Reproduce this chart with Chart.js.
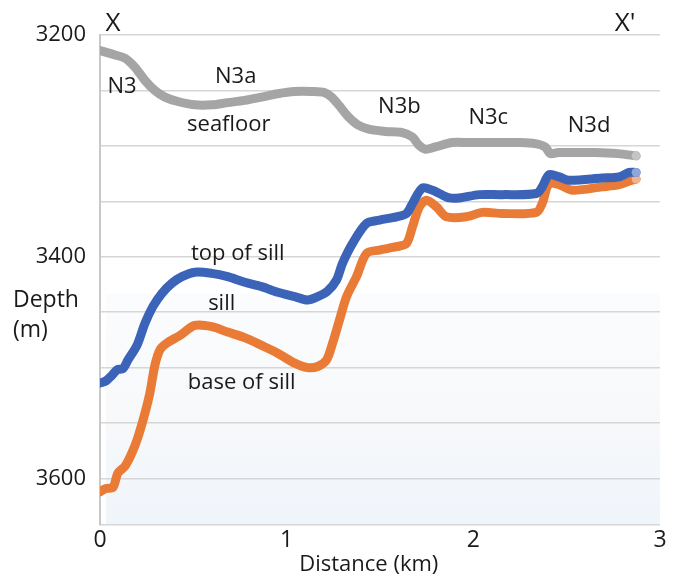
<!DOCTYPE html>
<html>
<head>
<meta charset="utf-8">
<script src="https://cdn.jsdelivr.net/npm/chart.js@4.4.1/dist/chart.umd.min.js"></script>
<style>
  html, body { margin: 0; padding: 0; background: #fff; }
  #wrap { width: 676px; height: 579px; }
</style>
</head>
<body>
<div id="wrap"><canvas id="perfil"></canvas></div>
<script>
// distance along X-X' (km) and depth (m) for each surface
const seafloorKm = [0, 0.08, 0.134, 0.187, 0.241, 0.294, 0.348, 0.417, 0.508, 0.599, 0.684, 0.775, 0.866, 0.952, 1.043, 1.134, 1.203, 1.241, 1.283, 1.326, 1.38, 1.439, 1.529, 1.62, 1.674, 1.706, 1.743, 1.797, 1.888, 1.973, 2.064, 2.155, 2.241, 2.332, 2.385, 2.412, 2.455, 2.545, 2.652, 2.775, 2.872];
const seafloorDepth = [3214, 3218, 3221, 3229, 3241, 3250, 3256, 3260, 3263, 3263, 3261, 3259, 3256, 3253, 3251, 3251, 3252, 3256, 3264, 3273, 3281, 3285, 3287, 3288, 3292, 3299, 3303, 3301, 3297, 3297, 3297, 3297, 3297, 3298, 3301, 3307, 3306, 3306, 3306, 3307, 3309];

const topKm = [0, 0.032, 0.064, 0.091, 0.123, 0.15, 0.198, 0.241, 0.283, 0.332, 0.385, 0.439, 0.508, 0.599, 0.684, 0.775, 0.866, 0.952, 1.043, 1.112, 1.166, 1.219, 1.267, 1.299, 1.353, 1.428, 1.497, 1.588, 1.642, 1.674, 1.727, 1.781, 1.818, 1.872, 1.925, 2.032, 2.155, 2.337, 2.369, 2.406, 2.46, 2.513, 2.69, 2.781, 2.834, 2.872];
const topDepth = [3514, 3512, 3507, 3502, 3501, 3493, 3480, 3460, 3445, 3433, 3424, 3418, 3414, 3415, 3418, 3423, 3427, 3432, 3436, 3439, 3436, 3431, 3421, 3406, 3388, 3370, 3367, 3364, 3361, 3352, 3338, 3340, 3343, 3347, 3347, 3344, 3344, 3343, 3337, 3326, 3328, 3331, 3329, 3328, 3324, 3324];

const baseKm = [0, 0.032, 0.07, 0.096, 0.134, 0.171, 0.203, 0.241, 0.267, 0.294, 0.321, 0.358, 0.428, 0.508, 0.599, 0.684, 0.775, 0.866, 0.952, 1.043, 1.112, 1.166, 1.214, 1.246, 1.283, 1.321, 1.374, 1.428, 1.497, 1.588, 1.642, 1.674, 1.711, 1.749, 1.802, 1.856, 1.963, 2.048, 2.155, 2.337, 2.369, 2.406, 2.46, 2.529, 2.69, 2.781, 2.85, 2.872];
const baseDepth = [3612, 3609, 3608, 3595, 3589, 3577, 3563, 3541, 3523, 3498, 3484, 3478, 3471, 3462, 3463, 3468, 3473, 3480, 3487, 3496, 3500, 3499, 3493, 3478, 3457, 3436, 3418, 3397, 3394, 3391, 3388, 3373, 3355, 3349, 3355, 3364, 3364, 3360, 3361, 3360, 3352, 3334, 3335, 3340, 3337, 3335, 3331, 3330];

const depthTicks = [3200, 3400, 3600];

// text placed on the section (km, depth)
const etiquetas = [
  { t: 'N3', x: 0.118, y: 3247 },
  { t: 'N3a', x: 0.727, y: 3238 },
  { t: 'seafloor', x: 0.69, y: 3281 },
  { t: 'N3b', x: 1.604, y: 3265 },
  { t: 'N3c', x: 2.08, y: 3275 },
  { t: 'N3d', x: 2.62, y: 3282 },
  { t: 'top of sill', x: 0.738, y: 3397 },
  { t: 'sill', x: 0.652, y: 3442 },
  { t: 'base of sill', x: 0.759, y: 3514 }
];

const FUENTE = '"Open Sans", "Noto Sans", sans-serif';

function puntos(xs, ys) {
  return xs.map((x, i) => ({ x, y: ys[i] }));
}

function serie(xs, ys, color, fin) {
  return {
    data: puntos(xs, ys),
    showLine: true,
    borderColor: color,
    borderWidth: 9,
    borderCapStyle: 'round',
    borderJoinStyle: 'round',
    pointRadius: ctx => (ctx.dataIndex === xs.length - 1 ? 4.5 : 0),
    pointBackgroundColor: fin,
    pointBorderWidth: 0,
    tension: 0.3
  };
}

// soft blue shading in the lower part of the plot
const fondo = {
  id: 'fondo',
  beforeDraw(chart) {
    const { ctx, chartArea: a } = chart;
    const top = 294;
    const g = ctx.createLinearGradient(0, top, 0, a.bottom);
    g.addColorStop(0, '#fbfcfd');
    g.addColorStop(0.6, '#f6f8fa');
    g.addColorStop(1, '#f0f5fb');
    ctx.save();
    ctx.fillStyle = g;
    ctx.fillRect(a.left + 6, top, a.right - a.left - 6, a.bottom - top);
    ctx.restore();
  }
};

const textos = {
  id: 'textos',
  afterDraw(chart) {
    const { ctx, scales: { x, y }, chartArea: a } = chart;
    ctx.save();
    ctx.fillStyle = '#1a1a1a';
    ctx.textAlign = 'center';
    ctx.textBaseline = 'middle';
    ctx.font = '22px ' + FUENTE;
    etiquetas.forEach(e => ctx.fillText(e.t, x.getPixelForValue(e.x), y.getPixelForValue(e.y)));

    // axis title sits a little left of the plot centre
    ctx.fillText('Distance (km)', x.getPixelForValue(1.44), 565);

    ctx.font = '26px ' + FUENTE;
    ctx.fillText('X', a.left + 13, 24);
    ctx.fillText("X'", a.right - 35, 24);

    ctx.font = '23px ' + FUENTE;
    ctx.textAlign = 'left';
    ctx.fillText('Depth', 13, 300);
    ctx.fillText('(m)', 13, 330);
    ctx.restore();
  }
};

new Chart(document.getElementById('perfil'), {
  type: 'scatter',
  data: {
    datasets: [
      serie(seafloorKm, seafloorDepth, '#a5a5a5', '#c4c4c4'),
      serie(topKm, topDepth, '#3b63b7', '#8fa6d8'),
      serie(baseKm, baseDepth, '#e97b37', '#f2b28c')
    ]
  },
  options: {
    responsive: true,
    maintainAspectRatio: false,
    animation: false,
    layout: { padding: { left: 0, right: 16, top: 35, bottom: 0 } },
    plugins: {
      legend: { display: false },
      tooltip: { enabled: false }
    },
    scales: {
      x: {
        type: 'linear',
        min: 0,
        max: 3,
        grid: { display: false, drawTicks: false },
        border: { display: false },
        ticks: {
          stepSize: 1,
          padding: 2,
          color: '#1a1a1a',
          font: { family: FUENTE, size: 23 }
        },
        afterFit(scale) { scale.height = 54; }
      },
      y: {
        reverse: true,
        min: 3200,
        max: 3642,
        grid: { color: '#d6d6d6', lineWidth: 1.5, drawTicks: false },
        border: { display: true, color: '#c8c8c8', width: 2 },
        ticks: {
          stepSize: 50,
          padding: 14,
          color: '#1a1a1a',
          font: { family: FUENTE, size: 22 },
          callback: v => (depthTicks.includes(v) ? v : '')
        },
        afterFit(scale) { scale.width = 100; }
      }
    }
  },
  plugins: [fondo, textos]
});
</script>
</body>
</html>
